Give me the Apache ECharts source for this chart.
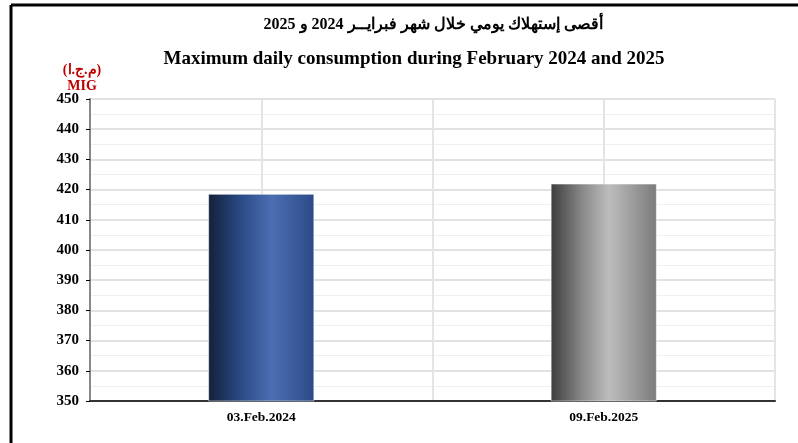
<!DOCTYPE html>
<html><head><meta charset="utf-8">
<script src="https://cdn.jsdelivr.net/npm/echarts@6/dist/echarts.min.js"></script>
<style>html,body{margin:0;padding:0;background:#fff}#c{width:798px;height:443px}</style>
</head><body><div id="c"></div>
<script>
const categories = ['03.Feb.2024', '09.Feb.2025'];
const values = [418.6, 422.0];
const yTicks = { min: 350, max: 450, interval: 10 };
const titleAr = 'أقصى إستهلاك يومي خلال شهر فبرايــر 2024 و 2025';
const titleEn = 'Maximum daily consumption during February 2024 and 2025';
const unitAr = '(م.ج.ا)';
const unitEn = 'MIG';

const font = '"Liberation Serif", "Times New Roman", serif';
const gradients = [
  new echarts.graphic.LinearGradient(0, 0, 1, 0, [
    {offset: 0, color: '#13203a'}, {offset: 0.3, color: '#2a4a84'},
    {offset: 0.6, color: '#4b6fb3'}, {offset: 1, color: '#2b4a86'}]),
  new echarts.graphic.LinearGradient(0, 0, 1, 0, [
    {offset: 0, color: '#3c3c3c'}, {offset: 0.3, color: '#8a8a8a'},
    {offset: 0.55, color: '#bdbdbd'}, {offset: 1, color: '#7a7a7a'}])
];

const chart = echarts.init(document.getElementById('c'));
chart.setOption({
  animation: false,
  backgroundColor: '#fff',
  title: [
    {text: titleAr, left: 428, top: 12, textAlign: 'center',
     textStyle: {fontFamily: font, fontWeight: 'bold', fontSize: 16, color: '#000'}},
    {text: titleEn, left: 409, top: 45, textAlign: 'center',
     textStyle: {fontFamily: font, fontWeight: 'bold', fontSize: 19, color: '#000'}},
    {text: unitAr + '\n' + unitEn, left: 77, top: 57, textAlign: 'center',
     textStyle: {fontFamily: font, fontWeight: 'bold', fontSize: 14, color: '#c00000', lineHeight: 16, align: 'center'}}
  ],
  graphic: [
    {type: 'line', shape: {x1: 11, y1: 5, x2: 798, y2: 5}, style: {stroke: '#000', lineWidth: 3}},
    {type: 'line', shape: {x1: 11, y1: 5, x2: 11, y2: 443}, style: {stroke: '#000', lineWidth: 3}}
  ],
  grid: {left: 90, right: 23, top: 99, bottom: 42},
  xAxis: [
    {type: 'category', data: categories,
     axisLine: {lineStyle: {color: '#333', width: 2}},
     axisTick: {show: false},
     axisLabel: {fontFamily: font, fontWeight: 'bold', fontSize: 13.5, color: '#000', margin: 10},
     splitLine: {show: false}},
    {type: 'value', min: 0, max: 4, interval: 1, position: 'top',
     axisLine: {show: false}, axisTick: {show: false}, axisLabel: {show: false},
     splitLine: {show: true, lineStyle: {color: '#e4e4e4', width: 2}}}
  ],
  yAxis: {
    type: 'value', min: yTicks.min, max: yTicks.max, interval: yTicks.interval,
    axisLine: {show: true, lineStyle: {color: '#888', width: 2}},
    axisTick: {show: true, length: 4, lineStyle: {color: '#000', width: 1}},
    axisLabel: {fontFamily: font, fontWeight: 'bold', fontSize: 15, color: '#000', margin: 11},
    splitLine: {show: true, lineStyle: {color: '#e2e2e2', width: 2}},
    minorTick: {show: false, splitNumber: 2},
    minorSplitLine: {show: true, lineStyle: {color: '#efefef', width: 1}}
  },
  series: [{
    type: 'bar', xAxisIndex: 0, barWidth: '31%',
    data: values.map((v, i) => ({value: v, itemStyle: {color: gradients[i]}})),
    itemStyle: {borderColor: 'rgba(255,255,255,0.5)', borderWidth: 1}
  }]
});
</script></body></html>
